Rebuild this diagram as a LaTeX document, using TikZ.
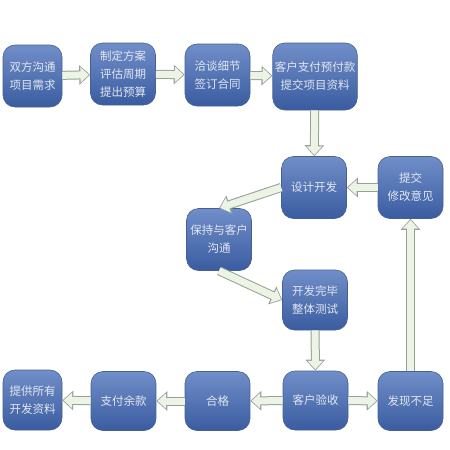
\documentclass[tikz,border=0pt]{standalone}
\usepackage{fontspec}
\newfontfamily\cjk{Noto Sans CJK SC}
\usepackage{tikz}
\usetikzlibrary{arrows.meta,calc,positioning}
\definecolor{boxtop}{RGB}{112,142,200}
\definecolor{boxbot}{RGB}{58,92,160}
\definecolor{boxedge}{RGB}{70,96,146}
\definecolor{boxtext}{RGB}{226,231,240}
\definecolor{arrowfill}{RGB}{236,244,230}
\definecolor{arrowedge}{RGB}{150,160,150}
\tikzset{
  stage/.style={rectangle,rounded corners=12pt,draw=boxedge,line width=0.6pt,
    top color=boxtop,bottom color=boxbot,text=boxtext,align=center,
    minimum width=65pt,minimum height=62pt,inner sep=2pt,
    font=\cjk\fontsize{11.5}{18}\selectfont},
  flow/.style={draw=arrowedge,line width=9pt,-{Triangle[length=11pt,width=19pt]},
    postaction={draw=arrowfill,line width=7pt,shorten >=1.3pt,-{Triangle[length=8.5pt,width=15pt]}}}
}

\begin{document}
\begin{tikzpicture}[x=1pt,y=-1pt]
\useasboundingbox (0,0) rectangle (450,450);
% top row
\node[stage,minimum width=59pt] (b1) at (32.5,76) {双方沟通\\项目需求};
\node[stage] (b2) at (123,74) {制定方案\\评估周期\\提出预算};
\node[stage] (b3) at (217.5,75) {洽谈细节\\签订合同};
\node[stage,minimum width=84pt,minimum height=67pt] (b4) at (315,76.5) {客户支付预付款\\提交项目资料};
% middle
\node[stage] (b5) at (314,187.5) {设计开发};
\node[stage] (b6) at (410.5,187.5) {提交\\修改意见};
\node[stage] (b7) at (219,239.5) {保持与客户\\沟通};
\node[stage,minimum height=60pt] (b8) at (315,300) {开发完毕\\整体测试};
% bottom row
\node[stage,minimum height=59pt] (b9) at (315.5,400.5) {客户验收};
\node[stage,minimum height=59pt] (b10) at (410.5,401) {发现不足};
\node[stage,minimum height=59pt] (b11) at (217.5,401) {合格};
\node[stage,minimum height=59pt] (b12) at (123.5,401) {支付余款};
\node[stage,minimum width=59pt,minimum height=60pt] (b13) at (32.5,400) {提供所有\\开发资料};
\path
(b1) edge[flow] (b2)
(b2) edge[flow] (b3)
(b3) edge[flow] (b4)
(b4) edge[flow] (b5)
(b6) edge[flow] (b5)
(b5.west) edge[flow] (b7.north)
(b7.south) edge[flow] (b8.west)
(b8) edge[flow] (b9)
(b9) edge[flow] (b10)
(b10) edge[flow] (b6)
(b9) edge[flow] (b11)
(b11) edge[flow] (b12)
(b12) edge[flow] (b13);
\end{tikzpicture}
\end{document}
